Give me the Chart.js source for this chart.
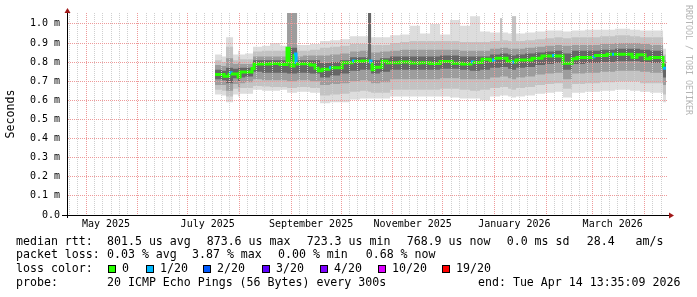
<!DOCTYPE html>
<html>
<head>
<meta charset="utf-8">
<script src="https://cdn.jsdelivr.net/npm/chart.js@4.4.1/dist/chart.umd.min.js"></script>
<style>
  html, body { margin: 0; padding: 0; background: #fff; }
  #wrap { width: 697px; height: 297px; }
</style>
</head>
<body>
<div id="wrap"><canvas id="pingChart" width="697" height="297"></canvas></div>
<script>
// x values are days since 2025-01-01 00:00 UTC
// graph covers 360 days ending Tue Apr 14 13:35:09 2026
var startDay = 108.57, endDay = 468.57;

var xLabelText = ['May 2025', 'July 2025', 'September 2025', 'November 2025', 'January 2026', 'March 2026'];
var xLabelDays = [132, 193, 255, 316, 377, 436];
var yTicks = [0, 0.1, 0.2, 0.3, 0.4, 0.5, 0.6, 0.7, 0.8, 0.9, 1.0];

// median rtt (ms) and lost pings out of 20
var medianDays = [197.4, 202.8, 205.8, 207.0, 211.2, 212.4, 219.6, 220.8, 230.4, 236.4,
  240.6, 241.8, 243.0, 244.8, 246.0, 247.2, 254.4, 257.4, 259.2, 261.6,
  265.8, 267.0, 273.6, 279.6, 280.8, 285.6, 289.8, 291.0, 291.6, 292.8,
  297.6, 300.6, 308.4, 314.4, 320.4, 326.4, 332.4, 339.6, 345.6, 351.0,
  352.2, 357.6, 362.4, 363.6, 364.8, 372.6, 375.6, 376.8, 378.0, 387.6,
  393.6, 399.6, 400.8, 406.2, 411.6, 414.6, 423.6, 424.8, 432.6, 435.6,
  436.8, 447.6, 450.6, 455.4, 458.4, 466.2, 468.0];
var medianMs = [0.735, 0.726, 0.745, 0.738, 0.722, 0.748, 0.766, 0.790, 0.793, 0.788,
  0.873, 0.800, 0.780, 0.843, 0.790, 0.792, 0.785, 0.768, 0.755, 0.763,
  0.771, 0.771, 0.797, 0.806, 0.803, 0.806, 0.806, 0.790, 0.760, 0.773,
  0.805, 0.797, 0.800, 0.795, 0.797, 0.793, 0.803, 0.794, 0.790, 0.800,
  0.798, 0.815, 0.808, 0.810, 0.820, 0.805, 0.800, 0.800, 0.811, 0.820,
  0.832, 0.834, 0.832, 0.794, 0.817, 0.824, 0.828, 0.834, 0.841, 0.841,
  0.841, 0.825, 0.839, 0.818, 0.824, 0.768, 0.768];
var medianLoss = [0, 0, 1, 0, 0, 0, 0, 0, 0, 0,
  0, 0, 0, 1, 0, 0, 0, 0, 0, 0,
  1, 0, 0, 1, 0, 0, 1, 0, 0, 0,
  0, 0, 0, 0, 0, 0, 0, 0, 0, 1,
  0, 0, 0, 1, 0, 0, 1, 0, 0, 0,
  0, 1, 0, 0, 0, 0, 1, 0, 0, 1,
  0, 0, 0, 0, 0, 1, 0];

// smoke: spread of the 20 pings, outer (1) to inner (4) bands
var smokeDays = [197.4, 201.6, 204.0, 208.2, 211.2, 212.4, 215.4, 220.2, 225.6, 230.4,
  236.4, 240.6, 246.6, 250.2, 254.4, 260.4, 266.4, 272.4, 278.4, 284.4,
  289.2, 291.0, 296.4, 302.4, 308.4, 314.4, 320.4, 326.4, 332.4, 338.4,
  344.4, 350.4, 356.4, 362.4, 368.4, 369.6, 373.2, 375.6, 378.0, 383.4,
  389.4, 395.4, 401.4, 406.2, 411.6, 419.4, 428.4, 437.4, 446.4, 452.4,
  458.4, 466.2, 468.0];
var smokeHi1 = [0.84, 0.83, 0.93, 0.84, 0.86, 0.84, 0.845, 0.88, 0.885, 0.90,
  0.885, 1.06, 0.89, 0.89, 0.895, 0.91, 0.915, 0.92, 0.935, 0.935,
  1.06, 0.93, 0.93, 0.94, 0.945, 0.99, 0.95, 1.00, 0.945, 1.02,
  0.99, 1.04, 0.96, 0.955, 1.03, 0.955, 0.95, 1.04, 0.95, 0.955,
  0.96, 0.965, 0.965, 0.96, 0.965, 0.97, 0.97, 0.975, 0.97, 0.965,
  0.965, 0.87, 0.87];
var smokeHi2 = [0.81, 0.80, 0.88, 0.81, 0.83, 0.815, 0.815, 0.855, 0.86, 0.86,
  0.86, 1.06, 0.86, 0.86, 0.865, 0.875, 0.88, 0.885, 0.895, 0.895,
  1.06, 0.89, 0.89, 0.90, 0.905, 0.91, 0.91, 0.91, 0.91, 0.91,
  0.905, 0.905, 0.905, 0.91, 1.03, 0.915, 0.91, 1.04, 0.91, 0.915,
  0.92, 0.925, 0.93, 0.925, 0.93, 0.93, 0.935, 0.94, 0.935, 0.93,
  0.93, 0.84, 0.84];
var smokeHi3 = [0.785, 0.78, 0.82, 0.79, 0.80, 0.79, 0.79, 0.83, 0.83, 0.83,
  0.83, 1.06, 0.83, 0.835, 0.835, 0.835, 0.84, 0.845, 0.855, 0.86,
  1.06, 0.85, 0.855, 0.86, 0.865, 0.865, 0.865, 0.865, 0.865, 0.865,
  0.86, 0.86, 0.86, 0.87, 0.875, 0.875, 0.87, 0.87, 0.87, 0.875,
  0.88, 0.885, 0.89, 0.885, 0.89, 0.89, 0.895, 0.90, 0.90, 0.895,
  0.89, 0.81, 0.81];
var smokeHi4 = [0.76, 0.755, 0.77, 0.765, 0.77, 0.77, 0.77, 0.81, 0.81, 0.81,
  0.81, 0.875, 0.81, 0.81, 0.81, 0.795, 0.80, 0.81, 0.825, 0.825,
  1.06, 0.81, 0.82, 0.83, 0.83, 0.83, 0.83, 0.83, 0.835, 0.835,
  0.83, 0.83, 0.83, 0.84, 0.845, 0.845, 0.84, 0.835, 0.84, 0.845,
  0.85, 0.855, 0.86, 0.845, 0.86, 0.86, 0.865, 0.87, 0.87, 0.865,
  0.86, 0.79, 0.79];
var smokeLo4 = [0.71, 0.705, 0.69, 0.715, 0.70, 0.72, 0.725, 0.75, 0.745, 0.745,
  0.745, 0.74, 0.745, 0.745, 0.74, 0.72, 0.73, 0.74, 0.755, 0.76,
  0.76, 0.74, 0.75, 0.76, 0.76, 0.76, 0.76, 0.76, 0.765, 0.765,
  0.76, 0.755, 0.76, 0.77, 0.775, 0.775, 0.765, 0.76, 0.77, 0.775,
  0.785, 0.79, 0.795, 0.76, 0.79, 0.795, 0.80, 0.805, 0.805, 0.80,
  0.795, 0.72, 0.72];
var smokeLo3 = [0.68, 0.68, 0.65, 0.685, 0.67, 0.69, 0.695, 0.71, 0.705, 0.705,
  0.705, 0.70, 0.705, 0.705, 0.70, 0.68, 0.685, 0.69, 0.70, 0.705,
  0.70, 0.69, 0.695, 0.71, 0.71, 0.71, 0.71, 0.71, 0.715, 0.715,
  0.71, 0.71, 0.71, 0.72, 0.725, 0.725, 0.715, 0.71, 0.72, 0.725,
  0.735, 0.74, 0.745, 0.71, 0.74, 0.745, 0.75, 0.755, 0.755, 0.75,
  0.745, 0.68, 0.68];
var smokeLo2 = [0.655, 0.65, 0.62, 0.66, 0.645, 0.665, 0.665, 0.675, 0.672, 0.67,
  0.67, 0.665, 0.67, 0.67, 0.665, 0.625, 0.63, 0.635, 0.645, 0.65,
  0.645, 0.64, 0.64, 0.655, 0.655, 0.655, 0.655, 0.655, 0.66, 0.66,
  0.655, 0.65, 0.655, 0.665, 0.67, 0.67, 0.66, 0.655, 0.665, 0.67,
  0.68, 0.685, 0.69, 0.66, 0.685, 0.69, 0.695, 0.70, 0.70, 0.69,
  0.69, 0.63, 0.63];
var smokeLo1 = [0.63, 0.625, 0.59, 0.63, 0.62, 0.635, 0.635, 0.655, 0.65, 0.65,
  0.655, 0.64, 0.645, 0.645, 0.64, 0.585, 0.59, 0.59, 0.605, 0.61,
  0.61, 0.61, 0.61, 0.62, 0.62, 0.62, 0.62, 0.62, 0.62, 0.615,
  0.61, 0.61, 0.60, 0.62, 0.625, 0.625, 0.62, 0.615, 0.62, 0.625,
  0.635, 0.64, 0.645, 0.615, 0.64, 0.645, 0.65, 0.655, 0.65, 0.645,
  0.64, 0.59, 0.59];

var lossSteps = [0, 1, 2, 3, 4, 10, 19];
var lossColors = ['#26ff00', '#00b8ff', '#0059ff', '#5e00ff', '#7e00ff', '#dd00ff', '#ff0000'];
var lossNames = ['0', '1/20', '2/20', '3/20', '4/20', '10/20', '19/20'];

var rttStats = ['801.5 us avg', '873.6 us max', '723.3 us min', '768.9 us now', '0.0 ms sd', '28.4   am/s'];
var lossStats = ['0.03 % avg', '3.87 % max', '0.00 % min', '0.68 % now'];
var probeText = '20 ICMP Echo Pings (56 Bytes) every 300s';
var endText = 'end: Tue Apr 14 13:35:09 2026';

var mono = 'DejaVu Sans Mono';
var majorGrid = '#ee9a9a';
var minorGrid = '#cfcfcf';
var arrowColor = '#a01818';

function pts(days, vals) {
  return days.map(function (d, i) { return { x: d, y: vals[i] }; });
}
function lossColor(n) {
  var c = lossColors[0];
  lossSteps.forEach(function (s, i) { if (n >= s) c = lossColors[i]; });
  return c;
}
function dayOf(y, m, d) {
  return (Date.UTC(y, m, d) - Date.UTC(2025, 0, 1)) / 864e5;
}

// x grid: month starts (major) plus every 5 days (minor), and the label positions
var xTickList = [];
for (var k = 0; k < 14; k++) {
  var yr = 2025 + Math.floor((3 + k) / 12), mo = (3 + k) % 12;
  [1, 6, 11, 16, 21, 26].forEach(function (dd) {
    var v = dayOf(yr, mo, dd);
    if (v > startDay && v < endDay) xTickList.push({ value: v, major: dd === 1 });
  });
}
xLabelDays.forEach(function (v) { xTickList.push({ value: v, isLabel: true }); });
xTickList.sort(function (a, b) { return a.value - b.value; });

function band(hi, lo, color, order) {
  return [
    { data: pts(smokeDays, hi), stepped: true, borderColor: 'rgba(0,0,0,0)', borderWidth: 0,
      pointRadius: 0, backgroundColor: color, fill: '+1', order: order },
    { data: pts(smokeDays, lo), stepped: true, borderColor: 'rgba(0,0,0,0)', borderWidth: 0,
      pointRadius: 0, fill: false, order: order }
  ];
}

var datasets = [{
  data: pts(medianDays, medianMs),
  stepped: true,
  borderColor: lossColors[0],
  borderWidth: 3,
  borderCapStyle: 'butt',
  borderJoinStyle: 'miter',
  pointRadius: 0,
  fill: false,
  order: 0,
  segment: { borderColor: function (ctx) { return lossColor(medianLoss[ctx.p0DataIndex]); } }
}].concat(
  band(smokeHi4, smokeLo4, '#666666', 1),
  band(smokeHi3, smokeLo3, '#9d9d9d', 2),
  band(smokeHi2, smokeLo2, '#c3c3c3', 3),
  band(smokeHi1, smokeLo1, '#dddddd', 4)
);

var rrdDecor = {
  id: 'rrdDecor',
  afterDraw: function (chart) {
    var ctx = chart.ctx, ca = chart.chartArea;
    ctx.save();
    // axis lines running past the plot, with arrows
    ctx.strokeStyle = '#000';
    ctx.lineWidth = 1;
    ctx.beginPath();
    ctx.moveTo(ca.left - 5, ca.bottom + 0.5);
    ctx.lineTo(ca.right + 2, ca.bottom + 0.5);
    ctx.moveTo(ca.left + 0.5, ca.top - 1);
    ctx.lineTo(ca.left + 0.5, ca.bottom + 3);
    ctx.stroke();
    ctx.fillStyle = arrowColor;
    ctx.beginPath();
    ctx.moveTo(ca.left + 0.5, ca.top - 5);
    ctx.lineTo(ca.left + 3.5, ca.top);
    ctx.lineTo(ca.left - 2.5, ca.top);
    ctx.closePath();
    ctx.fill();
    ctx.beginPath();
    ctx.moveTo(ca.right + 7, ca.bottom + 0.5);
    ctx.lineTo(ca.right + 2, ca.bottom - 2.5);
    ctx.lineTo(ca.right + 2, ca.bottom + 3.5);
    ctx.closePath();
    ctx.fill();

    // watermark
    ctx.save();
    ctx.translate(688, 5);
    ctx.rotate(Math.PI / 2);
    ctx.font = '8.3px "' + mono + '"';
    ctx.fillStyle = '#b4b4b4';
    ctx.textBaseline = 'middle';
    ctx.textAlign = 'left';
    ctx.fillText('RRDTOOL / TOBI OETIKER', 0, 0);
    ctx.restore();

    // legend
    ctx.font = '11.6px "' + mono + '"';
    ctx.fillStyle = '#000';
    ctx.textBaseline = 'middle';
    ctx.textAlign = 'left';
    var y1 = 241.7, y2 = 255.3, y3 = 269, y4 = 282.7;
    ctx.fillText('median rtt:', 16, y1);
    [107, 206.7, 306.7, 406.7, 506.7, 586.7].forEach(function (x, i) { ctx.fillText(rttStats[i], x, y1); });
    ctx.fillText('packet loss:', 16, y2);
    [107, 192, 278, 365.7].forEach(function (x, i) { ctx.fillText(lossStats[i], x, y2); });
    ctx.fillText('loss color:', 16, y3);
    [108, 146, 203, 262, 320, 378, 442].forEach(function (x, i) {
      ctx.fillStyle = lossColors[i];
      ctx.fillRect(x, y3 - 4, 8, 8);
      ctx.strokeStyle = '#000';
      ctx.strokeRect(x + 0.5, y3 - 3.5, 7, 7);
      ctx.fillStyle = '#000';
      ctx.fillText(lossNames[i], x + 14, y3);
    });
    ctx.fillText('probe:', 16, y4);
    ctx.fillText(probeText, 107, y4);
    ctx.fillText(endText, 478, y4);
    ctx.restore();
  }
};

var chart = new Chart(document.getElementById('pingChart'), {
  type: 'line',
  data: { datasets: datasets },
  plugins: [rrdDecor],
  options: {
    responsive: false,
    animation: false,
    devicePixelRatio: 1,
    events: [],
    layout: { padding: { left: 0, right: 30, top: 13, bottom: 62 } },
    plugins: { legend: { display: false }, tooltip: { enabled: false } },
    scales: {
      x: {
        type: 'linear',
        min: startDay,
        max: endDay,
        afterBuildTicks: function (scale) { scale.ticks = xTickList.map(function (t) { return Object.assign({}, t); }); },
        afterFit: function (scale) { scale.height = 20; },
        grid: {
          z: 1,
          drawTicks: false,
          color: function (ctx) {
            var t = ctx.tick;
            if (!t || t.isLabel) return 'rgba(0,0,0,0)';
            return t.major ? majorGrid : minorGrid;
          }
        },
        border: { display: true, color: '#000', dash: [1, 1], z: 2 },
        ticks: {
          autoSkip: false,
          maxRotation: 0,
          padding: 3,
          color: '#000',
          font: { family: mono, size: 10 },
          callback: function (v) {
            var i = xLabelDays.indexOf(v);
            return i < 0 ? '' : xLabelText[i];
          }
        }
      },
      y: {
        type: 'linear',
        min: 0,
        max: 1.057,
        afterBuildTicks: function (scale) { scale.ticks = yTicks.map(function (v) { return { value: v }; }); },
        afterFit: function (scale) { scale.width = 67; },
        grid: {
          z: 1,
          drawTicks: false,
          color: function (ctx) { return ctx.tick && ctx.tick.value === 0 ? 'rgba(0,0,0,0)' : majorGrid; }
        },
        border: { display: true, color: '#000', dash: [1, 1], z: 2 },
        ticks: {
          padding: 7,
          color: '#000',
          font: { family: mono, size: 10 },
          callback: function (v) { return v === 0 ? '0.0' : v.toFixed(1) + ' m'; }
        },
        title: {
          display: true,
          text: 'Seconds',
          color: '#000',
          font: { family: mono, size: 11.6 },
          padding: { top: 4, bottom: 0 }
        }
      }
    }
  }
});
</script>
</body>
</html>
